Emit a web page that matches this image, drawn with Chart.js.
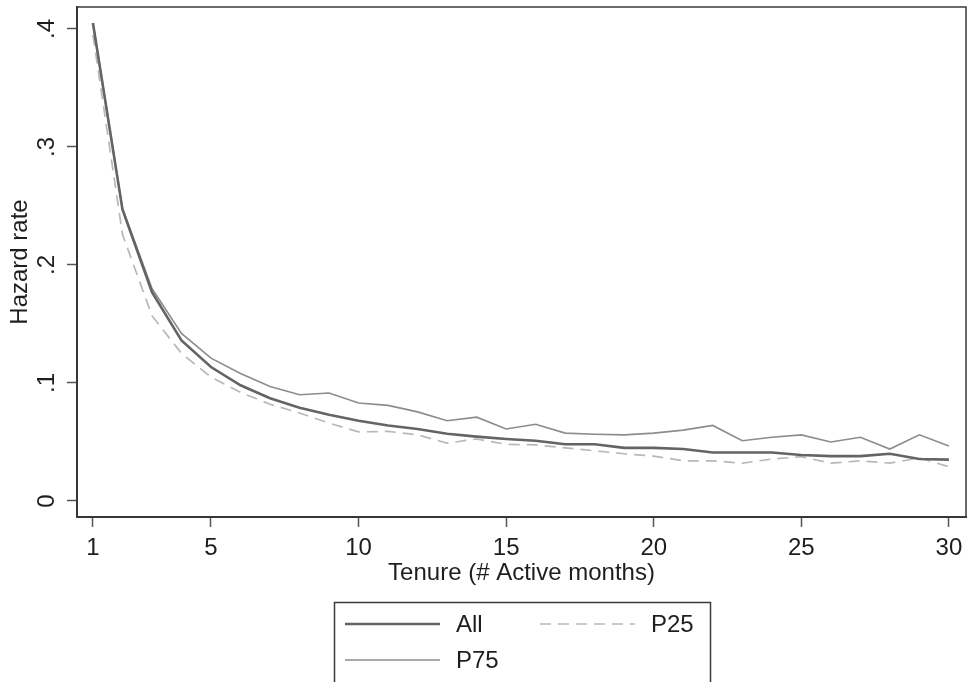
<!DOCTYPE html>
<html>
<head>
<meta charset="utf-8">
<script src="https://cdn.jsdelivr.net/npm/chart.js@4/dist/chart.umd.min.js"></script>
<style>
  html, body { margin: 0; padding: 0; background: #ffffff; }
  #wrap { width: 968px; height: 682px; position: relative; }
</style>
</head>
<body>
<div id="wrap"><canvas id="c" width="968" height="682"></canvas></div>
<script>
// ---- data ----
const months = [1,2,3,4,5,6,7,8,9,10,11,12,13,14,15,16,17,18,19,20,21,22,23,24,25,26,27,28,29,30];
const hazardAll = [0.405,0.247,0.177,0.136,0.1135,0.098,0.087,0.079,0.073,0.068,0.064,0.061,0.057,0.0545,0.0525,0.051,0.048,0.048,0.045,0.045,0.044,0.041,0.041,0.041,0.039,0.038,0.038,0.040,0.0355,0.035];
const hazardP75 = [0.405,0.248,0.180,0.142,0.121,0.108,0.097,0.090,0.0915,0.083,0.081,0.0755,0.068,0.071,0.061,0.065,0.0575,0.0565,0.056,0.0575,0.060,0.064,0.051,0.054,0.056,0.050,0.054,0.044,0.056,0.0465];
const hazardP25 = [0.395,0.226,0.157,0.125,0.105,0.092,0.082,0.0745,0.066,0.0585,0.059,0.056,0.049,0.0525,0.048,0.0475,0.045,0.0425,0.040,0.038,0.034,0.034,0.032,0.0355,0.0375,0.032,0.034,0.032,0.0365,0.029];
const xTicks = [1,5,10,15,20,25,30];
const yTicks = [0,0.1,0.2,0.3,0.4];
const yTickLabels = ['0','.1','.2','.3','.4'];
const seriesLabels = ['All','P25','P75'];
const xTitle = 'Tenure (# Active months)';
const yTitle = 'Hazard rate';

const FONT = '"Liberation Sans", Arial, sans-serif';
const TXT = '#1e1e1e';

function pts(vals){ return months.map((m,i)=>({x:m, y:vals[i]})); }

const legendBox = {
  id: 'legendBox',
  afterDraw(chart) {
    const ctx = chart.ctx;
    const ds = chart.data.datasets;
    const slots = [
      {i:0, x:345, y:624},
      {i:1, x:540, y:624},
      {i:2, x:345, y:660}
    ];
    ctx.save();
    ctx.strokeStyle = '#3a3a3a';
    ctx.lineWidth = 1.5;
    ctx.strokeRect(334.5, 602.5, 376, 90);
    ctx.font = '24px ' + FONT;
    ctx.fillStyle = TXT;
    ctx.textBaseline = 'middle';
    ctx.textAlign = 'left';
    slots.forEach(s => {
      const d = ds[s.i];
      ctx.beginPath();
      ctx.strokeStyle = d.borderColor;
      ctx.lineWidth = d.borderWidth;
      ctx.setLineDash(d.borderDash || []);
      ctx.moveTo(s.x, s.y);
      ctx.lineTo(s.x + 95, s.y);
      ctx.stroke();
      ctx.setLineDash([]);
      ctx.fillText(d.label, s.x + 111, s.y + 1);
    });
    ctx.restore();
  }
};

const frame = {
  id: 'frame',
  afterDraw(chart) {
    const a = chart.chartArea, ctx = chart.ctx;
    ctx.save();
    ctx.strokeStyle = '#3a3a3a';
    ctx.lineWidth = 1.5;
    ctx.strokeRect(a.left, a.top, a.right - a.left, a.bottom - a.top);
    ctx.restore();
  }
};

new Chart(document.getElementById('c'), {
  type: 'line',
  data: {
    datasets: [
      { label: seriesLabels[0], data: pts(hazardAll), borderColor: '#646464', borderWidth: 2.6, pointRadius: 0, tension: 0, order: 0 },
      { label: seriesLabels[1], data: pts(hazardP25), borderColor: '#b8b8b8', borderWidth: 1.7, borderDash: [11, 7], pointRadius: 0, tension: 0, order: 2 },
      { label: seriesLabels[2], data: pts(hazardP75), borderColor: '#8c8c8c', borderWidth: 1.6, pointRadius: 0, tension: 0, order: 1 }
    ]
  },
  options: {
    responsive: false,
    animation: false,
    devicePixelRatio: 1,
    layout: { padding: { left: 0, right: 2, top: 7, bottom: 92 } },
    plugins: { legend: { display: false }, tooltip: { enabled: false } },
    scales: {
      x: {
        type: 'linear',
        min: 0.46, max: 30.58,
        afterBuildTicks: s => { s.ticks = xTicks.map(v => ({value: v})); },
        afterFit: s => { s.height = 73; s.paddingLeft = 0; s.paddingRight = 0; },
        grid: { display: true, drawOnChartArea: false, drawTicks: true, tickLength: 10, tickColor: '#555', tickWidth: 1.5 },
        border: { display: true, color: '#333', width: 2 },
        ticks: { color: TXT, font: { family: FONT, size: 24 }, padding: 7, maxRotation: 0, minRotation: 0, autoSkip: false,
                 callback: v => String(v) },
        title: { display: true, text: xTitle, color: TXT, font: { family: FONT, size: 24 }, padding: { top: 0, bottom: 2 } }
      },
      y: {
        type: 'linear',
        min: -0.0136, max: 0.4186,
        afterBuildTicks: s => { s.ticks = yTicks.map(v => ({value: v})); },
        afterFit: s => { s.width = 77; s.paddingTop = 0; s.paddingBottom = 0; },
        grid: { display: true, drawOnChartArea: false, drawTicks: true, tickLength: 10, tickColor: '#555', tickWidth: 1.5 },
        border: { display: true, color: '#333', width: 2 },
        ticks: { color: TXT, font: { family: FONT, size: 24 }, padding: 10, minRotation: 90, maxRotation: 90, crossAlign: 'center', autoSkip: false,
                 callback: v => { const k = yTicks.findIndex(t => Math.abs(t - v) < 1e-9); return k >= 0 ? yTickLabels[k] : ''; } },
        title: { display: true, text: yTitle, color: TXT, font: { family: FONT, size: 24 }, padding: { top: 6, bottom: 0 } }
      }
    }
  },
  plugins: [frame, legendBox]
});
</script>
</body>
</html>
